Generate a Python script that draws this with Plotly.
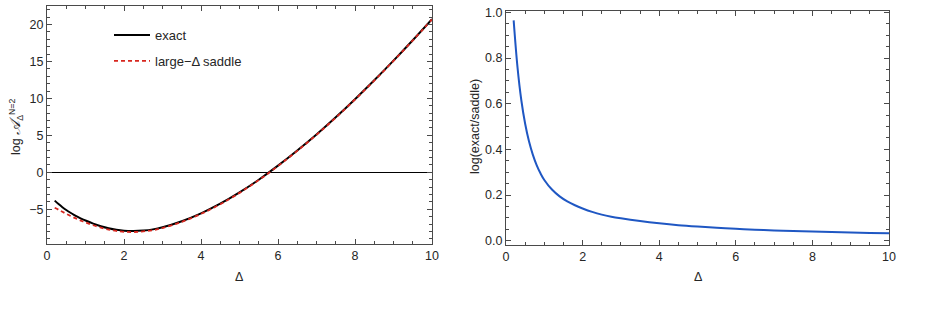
import plotly.graph_objects as go

# ---- data ----
delta = [0.2, 0.3, 0.4, 0.5, 0.6, 0.7, 0.8, 0.9, 1.0, 1.2, 1.4, 1.6, 1.8, 2.0, 2.25, 2.5,
         2.75, 3.0, 3.5, 4.0, 4.5, 5.0, 5.5, 6.0, 6.5, 7.0, 7.5, 8.0, 8.5, 9.0, 9.5, 10.0]

log_exact = [-3.83, -4.30, -4.72, -5.10, -5.44, -5.75, -6.03, -6.29, -6.52, -6.94, -7.29,
             -7.57, -7.78, -7.91, -7.95, -7.88, -7.72, -7.44, -6.62, -5.55, -4.25, -2.72,
             -1.00, 0.90, 2.95, 5.12, 7.44, 9.89, 12.45, 15.11, 17.87, 20.72]

log_saddle = [-4.795, -5.06, -5.335, -5.612, -5.875, -6.127, -6.361, -6.585, -6.786, -7.164,
              -7.484, -7.742, -7.935, -8.051, -8.076, -7.994, -7.825, -7.538, -6.706, -5.626,
              -4.318, -2.782, -1.057, 0.848, 2.902, 5.075, 7.398, 9.85, 12.412, 15.074,
              17.836, 20.688]

log_ratio = [0.965, 0.76, 0.615, 0.512, 0.435, 0.377, 0.331, 0.295, 0.266, 0.224, 0.194,
             0.172, 0.155, 0.141, 0.126, 0.114, 0.105, 0.098, 0.086, 0.076, 0.068, 0.062,
             0.057, 0.052, 0.048, 0.045, 0.042, 0.040, 0.038, 0.036, 0.034, 0.032]

left_yticks = [-5, 0, 5, 10, 15, 20]
right_yticks = [0.0, 0.2, 0.4, 0.6, 0.8, 1.0]
xticks = [0, 2, 4, 6, 8, 10]

FONT = "Liberation Sans, Arial, sans-serif"
FRAME = "#4a4a4a"
TXT = "#262626"
TICKFONT = dict(family=FONT, size=12.5, color=TXT)

fig = go.Figure()
fig.add_trace(go.Scatter(x=delta, y=log_exact, mode="lines", name="exact",
                         line=dict(color="black", width=2, shape="spline", smoothing=1.0),
                         xaxis="x", yaxis="y", legendgroup="a"))
fig.add_trace(go.Scatter(x=delta, y=log_saddle, mode="lines", name="large\u2212\u0394 saddle",
                         line=dict(color="#d7261e", width=1.8, dash="4px,3px", shape="spline",
                                   smoothing=1.0),
                         xaxis="x", yaxis="y", legendgroup="b"))
fig.add_trace(go.Scatter(x=delta, y=log_ratio, mode="lines", showlegend=False,
                         line=dict(color="#1f57c3", width=2, shape="spline", smoothing=1.0),
                         xaxis="x2", yaxis="y2"))

W, H = 931, 316
L1, R1, T1, B1 = 47, 432, 6, 244
L2, R2, T2, B2 = 506, 889, 11, 245


def xax(domain, anchor):
    return dict(domain=domain, anchor=anchor, range=[0, 10], tickvals=xticks,
                showline=True, linecolor=FRAME, linewidth=1, mirror="ticks",
                ticks="inside", ticklen=5, tickcolor=FRAME, tickwidth=1,
                minor=dict(dtick=0.5, ticks="inside", ticklen=3, tickcolor=FRAME,
                           tickwidth=1, showgrid=False),
                showgrid=False, zeroline=False, tickfont=TICKFONT, automargin=False)


def yax(domain, anchor, rng, vals, minor, zeroline, fmt):
    return dict(domain=domain, anchor=anchor, range=rng, tickvals=vals,
                tickformat=fmt,
                showline=True, linecolor=FRAME, linewidth=1, mirror="ticks",
                ticks="inside", ticklen=5, tickcolor=FRAME, tickwidth=1,
                minor=dict(dtick=minor, ticks="inside", ticklen=3, tickcolor=FRAME,
                           tickwidth=1, showgrid=False),
                showgrid=False, zeroline=zeroline, zerolinecolor="black",
                zerolinewidth=1, tickfont=TICKFONT, automargin=False)


fig.update_layout(
    width=W, height=H, margin=dict(l=0, r=0, t=0, b=0),
    paper_bgcolor="white", plot_bgcolor="white",
    template="none",
    font=dict(family=FONT, color=TXT),
    xaxis=xax([L1 / W, R1 / W], "y"),
    yaxis=yax([1 - B1 / H, 1 - T1 / H], "x", [-9.7, 22.5], left_yticks, 1, True, "d"),
    xaxis2=xax([L2 / W, R2 / W], "y2"),
    yaxis2=yax([1 - B2 / H, 1 - T2 / H], "x2", [-0.019, 1.006], right_yticks, 0.05, False, ".1f"),
    legend=dict(x=109 / W, y=1 - 20 / H, xanchor="left", yanchor="top",
                bgcolor="rgba(0,0,0,0)", borderwidth=0, tracegroupgap=6, itemwidth=36,
                font=dict(family=FONT, size=13, color=TXT)),
    showlegend=True,
)

ann = [
    dict(text="\u0394", x=(L1 + R1) / 2 / W, y=1 - 277 / H),
    dict(text="\u0394", x=(L2 + R2) / 2 / W, y=1 - 277 / H),
    dict(text="log <span style='font-family:DejaVu Serif, serif;font-size:15px;font-style:italic'>"
              "\U0001D49C</span><sub>\u0394</sub><sup>N=2</sup>",
         x=16 / W, y=1 - 127 / H, textangle=-90),
    dict(text="log(exact/saddle)", x=475 / W, y=1 - 127 / H, textangle=-90),
]
for a in ann:
    a.update(xref="paper", yref="paper", xanchor="center", yanchor="middle",
             showarrow=False, font=dict(family=FONT, size=12.5, color=TXT))
fig.update_layout(annotations=ann)

fig.write_html("out.html")
